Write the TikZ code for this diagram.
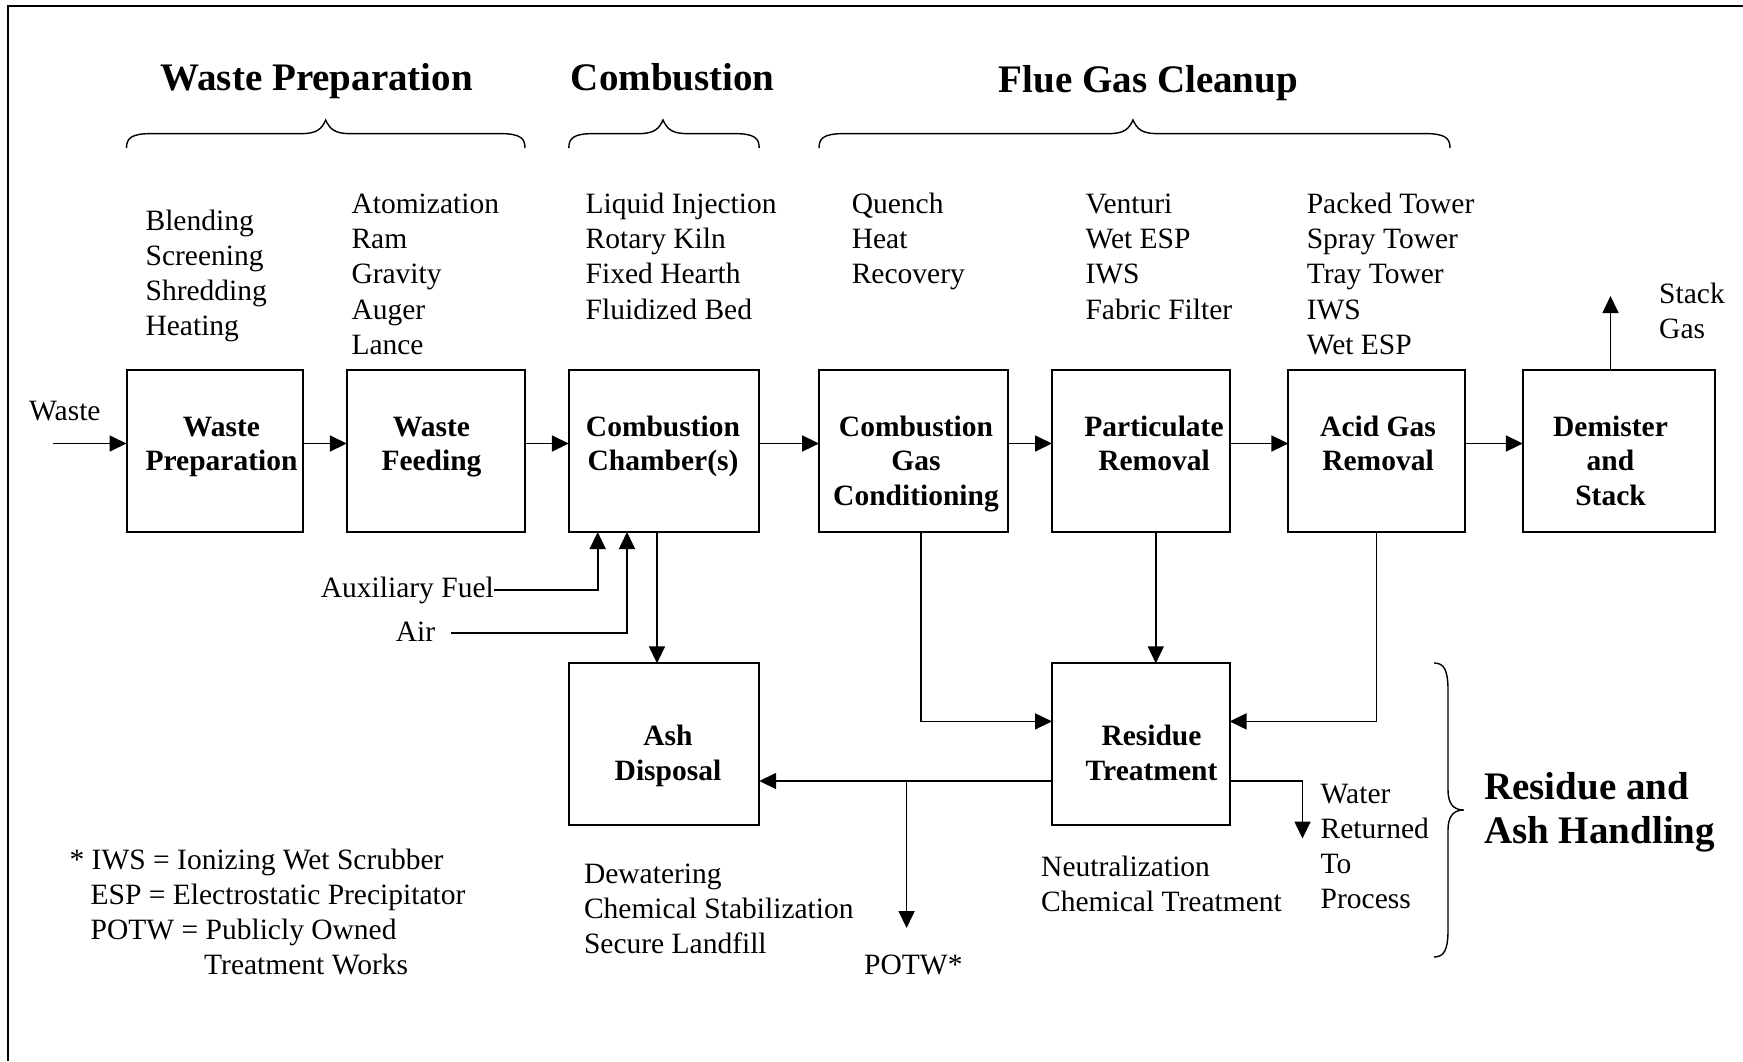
\documentclass[tikz,border=0pt]{standalone}
\usepackage{fontspec}
\setmainfont{Liberation Serif}
\usetikzlibrary{arrows.meta}
\newcommand\ctrlines[1]{\vtop{\halign{\hfil##\hfil\cr#1\crcr}}}
\newcommand\leftlines[1]{\vtop{\halign{##\hfil\cr#1\crcr}}}
\newcommand\hbrace[3]{%
  \draw[br] (#1,148) .. controls (#1,138) and ({#1+5},133.6) .. ({#1+25},133.6)
    -- ({#3-24},133.6) .. controls ({#3-9},133.6) and ({#3-4},129) .. (#3,120)
    .. controls ({#3+4},129) and ({#3+9},133.6) .. ({#3+24},133.6)
    -- ({#2-25},133.6) .. controls ({#2-5},133.6) and (#2,138) .. (#2,148);}
\begin{document}
\begin{tikzpicture}[x=1pt,y=-1pt,
  box/.style={draw,line width=2pt,rectangle,minimum height=162.5pt,outer sep=0pt,inner sep=0pt},
  bt/.style={font=\fontsize{29.5}{34.5}\selectfont\bfseries,inner sep=0pt,anchor=base},
  lt/.style={font=\fontsize{29.5}{35.2}\selectfont,inner sep=0pt,anchor=base west},
  hd/.style={font=\fontsize{39}{44.7}\selectfont\bfseries,inner sep=0pt,anchor=base},
  arr/.style={line width=1.7pt,-{Triangle[length=17pt,width=16pt]}},
  ln/.style={line width=1.7pt},
  br/.style={line width=1.4pt}]
\useasboundingbox (0,0) rectangle (1743,1061);
\fill[white] (0,0) rectangle (1743,1061);
\draw[line width=2pt] (8,1061) -- (8,6) -- (1743,6);

% headings
\node[hd] (hwp) at (316.8,90) {Waste Preparation};
\node[hd] (hcb) at (672.8,90) {Combustion};
\node[hd] (hfg) at (1148.5,92) {Flue Gas Cleanup};
\hbrace{126.5}{525}{325.7}
\hbrace{568.8}{759.2}{663}
\hbrace{819}{1450}{1133}

% lists above
\node[lt] (l1) at (145.4,230) {\leftlines{Blending\cr Screening\cr Shredding\cr Heating}};
\node[lt] (l2) at (351.3,213.5) {\leftlines{Atomization\cr Ram\cr Gravity\cr Auger\cr Lance}};
\node[lt] (l3) at (585.5,213.5) {\leftlines{Liquid Injection\cr Rotary Kiln\cr Fixed Hearth\cr Fluidized Bed}};
\node[lt] (l4) at (851.6,213.5) {\leftlines{Quench\cr Heat\cr Recovery}};
\node[lt] (l5) at (1085.3,213.5) {\leftlines{Venturi\cr Wet ESP\cr IWS\cr Fabric Filter}};
\node[lt] (l6) at (1306.6,213.5) {\leftlines{Packed Tower\cr Spray Tower\cr Tray Tower\cr IWS\cr Wet ESP}};
\node[lt] (lsg) at (1659,303.7) {\leftlines{Stack\cr Gas}};

% boxes row 1
\node[box,minimum width=176.5pt] (wp) at (214.75,450.75) {};
\node[box,minimum width=178.2pt] (wf) at (435.9,450.75) {};
\node[box,minimum width=190.4pt] (cc) at (664,450.75) {};
\node[box,minimum width=189.1pt] (cgc) at (913.65,450.75) {};
\node[box,minimum width=177.6pt] (pr) at (1140.8,450.75) {};
\node[box,minimum width=176.5pt] (agr) at (1376.6,450.75) {};
\node[box,minimum width=192.3pt] (ds) at (1619,450.75) {};
% boxes row 2
\node[box,minimum width=190.4pt,minimum height=161.8pt] (ad) at (664,744.2) {};
\node[box,minimum width=177.6pt,minimum height=161.8pt] (rt) at (1140.8,744.2) {};

% box texts
\node[bt] (twp) at (221.5,436.3) {\ctrlines{Waste\cr Preparation}};
\node[bt] (twf) at (431.5,436.3) {\ctrlines{Waste\cr Feeding}};
\node[bt] (tcc) at (663,436.3) {\ctrlines{Combustion\cr Chamber(s)}};
\node[bt] (tcgc) at (916,436.3) {\ctrlines{Combustion\cr Gas\cr Conditioning}};
\node[bt] (tpr) at (1154,436.3) {\ctrlines{Particulate\cr Removal}};
\node[bt] (tagr) at (1378,436.3) {\ctrlines{Acid Gas\cr Removal}};
\node[bt] (tds) at (1610.5,436.3) {\ctrlines{Demister\cr and\cr Stack}};
\node[bt] (tad) at (668,745.5) {\ctrlines{Ash\cr Disposal}};
\node[bt] (trt) at (1151.5,745.5) {\ctrlines{Residue\cr Treatment}};

% side labels
\node[lt] (lwaste) at (29,420.8) {Waste};
\node[lt,anchor=base east] (laux) at (494,597.5) {Auxiliary Fuel};
\node[lt] (lair) at (395.7,641.2) {Air};
\node[lt] (lpotw) at (864,974) {POTW*};
\node[lt] (lwater) at (1320.5,803) {\leftlines{Water\cr Returned\cr To\cr Process}};
\node[lt] (ldew) at (583.8,883.3) {\leftlines{Dewatering\cr Chemical Stabilization\cr Secure Landfill}};
\node[lt] (lneu) at (1041,876.4) {\leftlines{Neutralization\cr Chemical Treatment}};
\node[lt] (fn1) at (69.4,869) {* IWS = Ionizing Wet Scrubber};
\node[lt] (fn2) at (90.5,904.2) {ESP = Electrostatic Precipitator};
\node[lt] (fn3) at (90.5,939.4) {POTW = Publicly Owned};
\node[lt] (fn4) at (204,974.6) {Treatment Works};
\node[hd,anchor=base west] (hrah) at (1484,799) {\leftlines{Residue and\cr Ash Handling}};

% right brace
\draw[br] (1434,663) .. controls (1444,663) and (1448,670) .. (1448,690) -- (1448,790)
  .. controls (1448,803) and (1453,810) .. (1463.7,810)
  .. controls (1453,810) and (1448,817) .. (1448,830) -- (1448,930)
  .. controls (1448,950) and (1444,957) .. (1434,957);

% coordinates
\coordinate (win) at (52.7,443.5);
\coordinate (stk) at (1610.5,296);
\coordinate (auxe) at (494,589.9);
\coordinate (fuelx) at (597.7,0);
\coordinate (aire) at (450.6,633.3);
\coordinate (airx) at (627,0);
\coordinate (ashx) at (657,0);
\coordinate (cgcx) at (921,0);
\coordinate (prx) at (1155.8,0);
\coordinate (side) at (0,721.4);
\coordinate (bot) at (0,781);
\coordinate (potw) at (906.6,928);
\coordinate (water) at (1302.5,838.5);

% connectors
\draw[arr] (win) -- (win -| wp.west);
\draw[arr] (wp.east |- win) -- (wf.west |- win);
\draw[arr] (wf.east |- win) -- (cc.west |- win);
\draw[arr] (cc.east |- win) -- (cgc.west |- win);
\draw[arr] (cgc.east |- win) -- (pr.west |- win);
\draw[arr] (pr.east |- win) -- (agr.west |- win);
\draw[arr] (agr.east |- win) -- (ds.west |- win);
\draw[arr] (stk |- ds.north) -- (stk);
\draw[arr] (auxe) -| (fuelx |- cc.south);
\draw[arr] (aire) -| (airx |- cc.south);
\draw[arr] (ashx |- cc.south) -- (ashx |- ad.north);
\draw[arr] (cgcx |- cgc.south) |- (rt.west |- side);
\draw[arr] (prx |- pr.south) -- (prx |- rt.north);
\draw[arr] (agr.south) |- (rt.east |- side);
\draw[arr] (rt.west |- bot) -- (ad.east |- bot);
\draw[arr] (potw |- bot) -- (potw);
\draw[arr] (rt.east |- bot) -| (water);
\end{tikzpicture}
\end{document}
